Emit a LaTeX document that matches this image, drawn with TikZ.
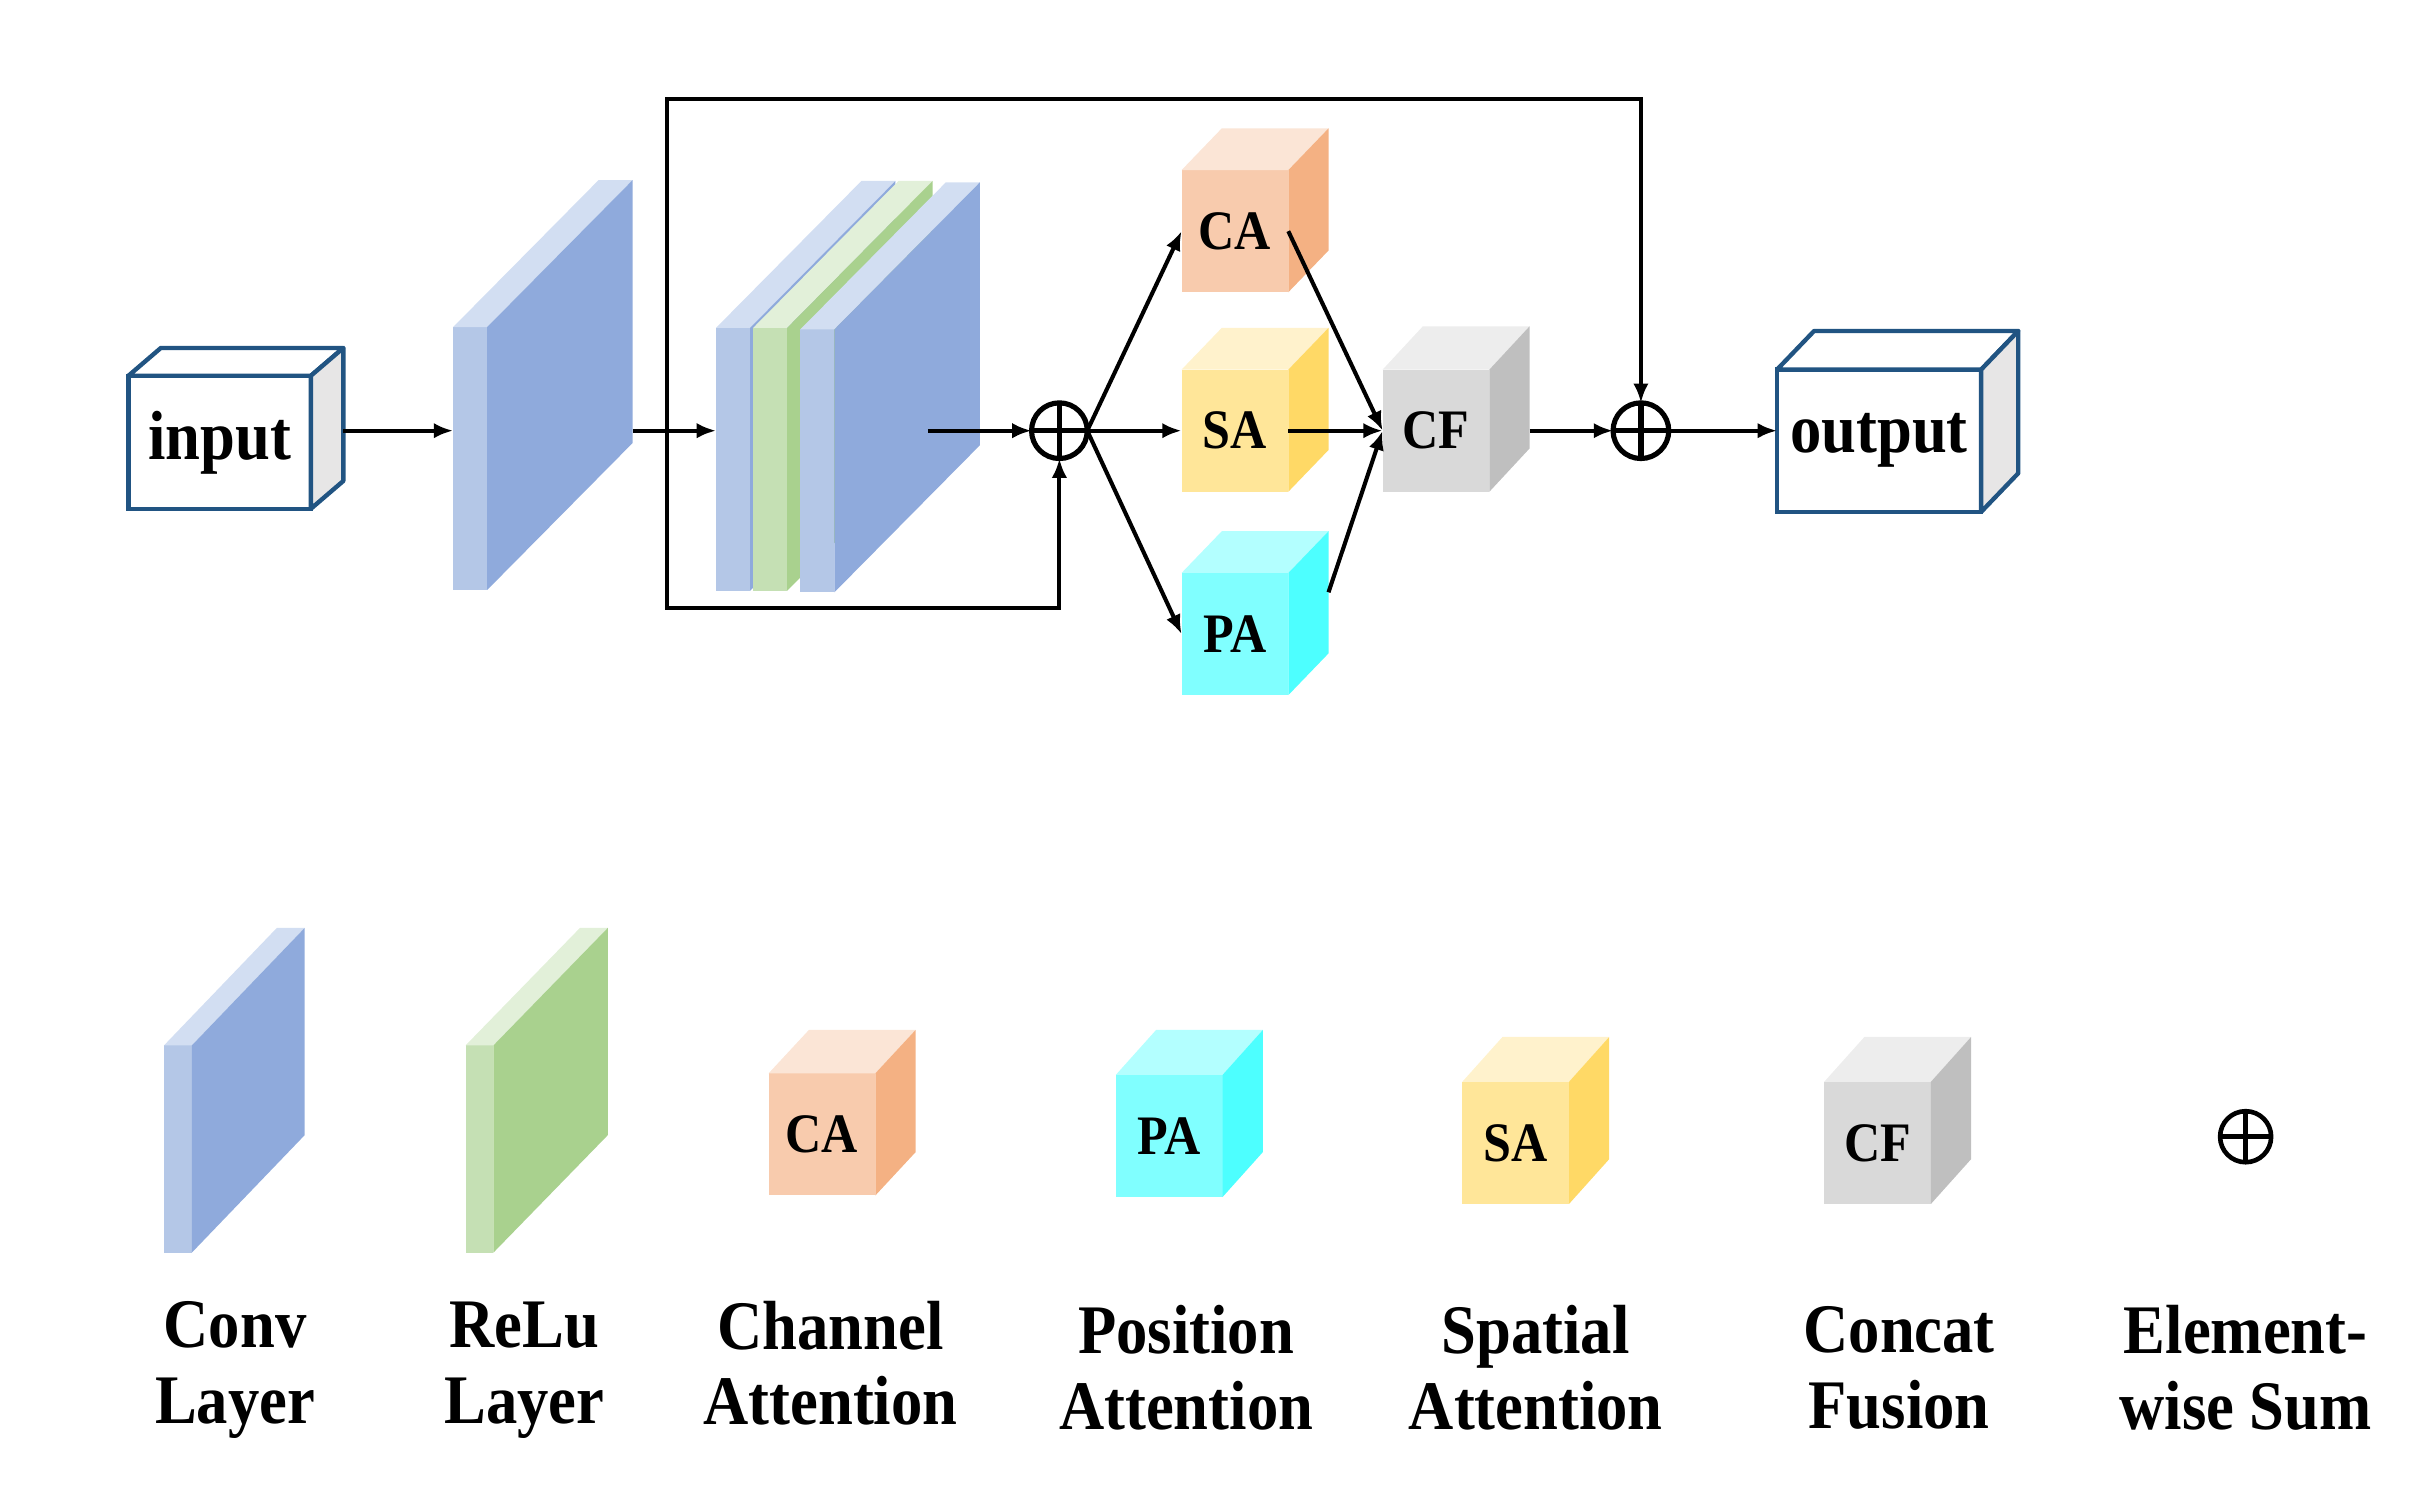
\documentclass[tikz,border=0pt]{standalone}
\usepackage{fontspec}
\usepackage{tikz}
\usetikzlibrary{arrows.meta, calc}
\newfontfamily\figfont[FakeStretch=0.9]{Liberation Serif}
\definecolor{wireblue}{RGB}{33,84,130}
\definecolor{wireside}{RGB}{231,230,230}
\definecolor{convfront}{RGB}{180,199,231}
\definecolor{convside}{RGB}{143,170,220}
\definecolor{convtop}{RGB}{210,222,242}
\definecolor{relufront}{RGB}{197,224,180}
\definecolor{reluside}{RGB}{169,209,142}
\definecolor{relutop}{RGB}{226,240,217}
\definecolor{cafront}{RGB}{248,203,173}
\definecolor{caside}{RGB}{244,177,131}
\definecolor{catop}{RGB}{251,229,214}
\definecolor{safront}{RGB}{255,230,153}
\definecolor{saside}{RGB}{255,217,102}
\definecolor{satop}{RGB}{255,242,204}
\definecolor{pafront}{RGB}{128,255,255}
\definecolor{paside}{RGB}{77,255,255}
\definecolor{patop}{RGB}{179,255,255}
\definecolor{cffront}{RGB}{217,217,217}
\definecolor{cfside}{RGB}{191,191,191}
\definecolor{cftop}{RGB}{237,237,237}
\newcommand{\labfont}{\figfont\bfseries\fontsize{25.6}{27.9}\selectfont}
\newcommand{\boxfont}{\figfont\bfseries\fontsize{20.5}{24}\selectfont}
\tikzset{
  slab/.style={rectangle, inner sep=0pt, outer sep=0pt,
    minimum width=0.44cm, minimum height=3.40cm},
  legslab/.style={slab, minimum width=0.36cm, minimum height=2.68cm},
  cube/.style={rectangle, inner sep=0pt, outer sep=0pt,
    minimum width=1.38cm, minimum height=1.58cm, font=\boxfont},
  wirebox/.style={rectangle, draw=wireblue, fill=white, line width=1.6pt,
    inner sep=0pt, outer sep=0pt, font=\labfont},
  sumnode/.style={circle, draw, line width=1.9pt, minimum size=0.72cm,
    inner sep=0pt, outer sep=0pt,
    path picture={\draw[line width=1.9pt]
      (path picture bounding box.north) -- (path picture bounding box.south)
      (path picture bounding box.west) -- (path picture bounding box.east);}},
  arrow/.style={-{Latex[length=2.5mm,width=2mm]}, line width=1.5pt},
  legtext/.style={align=center, font=\labfont}
}
% top and side faces behind a front node: node, top, side, dx, dy
\newcommand{\blockfaces}[5]{
  \fill[#2] (#1.north west) -- ++(#4,#5) -- ($(#1.north east)+(#4,#5)$) -- (#1.north east) -- cycle;
  \fill[#3] (#1.north east) -- ++(#4,#5) -- ($(#1.south east)+(#4,#5)$) -- (#1.south east) -- cycle;
}
% outlined box faces: node, dx, dy
\newcommand{\wirefaces}[3]{
  \filldraw[draw=wireblue, fill=white, line width=1.6pt, line join=round]
    (#1.north west) -- ++(#2,#3) -- ($(#1.north east)+(#2,#3)$) -- (#1.north east) -- cycle;
  \filldraw[draw=wireblue, fill=wireside, line width=1.6pt, line join=round]
    (#1.north east) -- ++(#2,#3) -- ($(#1.south east)+(#2,#3)$) -- (#1.south east) -- cycle;
}

\begin{document}
\begin{tikzpicture}
  \useasboundingbox (0,0) rectangle (31.36,19.44);

  % input and first conv
  \node[wirebox, minimum width=2.36cm, minimum height=1.72cm] (input) at (2.84,13.72) {input};
  \wirefaces{input}{0.42}{0.36}
  \node[slab, fill=convfront] (conva) at (6.08,13.51) {};
  \blockfaces{conva}{convtop}{convside}{1.88}{1.90}

  % conv - relu - conv stack
  \node[slab, fill=convfront] (slaba) at (9.48,13.50) {};
  \blockfaces{slaba}{convtop}{convside}{1.88}{1.90}
  \node[slab, fill=relufront] (slabb) at (9.96,13.50) {};
  \blockfaces{slabb}{relutop}{reluside}{1.88}{1.90}
  \node[slab, fill=convfront] (slabc) at (10.57,13.48) {};
  \blockfaces{slabc}{convtop}{convside}{1.88}{1.90}

  % attention branches
  \node[sumnode] (sumA) at (13.70,13.87) {};
  \node[cube, fill=cafront] (ca) at (15.97,16.45) {CA};
  \blockfaces{ca}{catop}{caside}{0.52}{0.54}
  \node[cube, fill=safront] (sa) at (15.97,13.87) {SA};
  \blockfaces{sa}{satop}{saside}{0.52}{0.54}
  \node[cube, fill=pafront] (pa) at (15.97,11.24) {PA};
  \blockfaces{pa}{patop}{paside}{0.52}{0.54}
  \node[cube, fill=cffront] (cf) at (18.57,13.87) {CF};
  \blockfaces{cf}{cftop}{cfside}{0.52}{0.56}
  \node[sumnode] (sumB) at (21.22,13.87) {};

  % output
  \node[wirebox, minimum width=2.64cm, minimum height=1.84cm] (output) at (24.30,13.74) {output};
  \wirefaces{output}{0.48}{0.50}

  % connectors
  \coordinate (insd) at (4.44,13.87);
  \coordinate (convout) at (8.18,13.87);
  \coordinate (split) at (8.62,13.87);
  \coordinate (tap) at (12.00,13.87);
  \coordinate (cfout) at (19.78,13.87);
  \draw[arrow] (insd) -- (conva.west |- insd);
  \draw[arrow] (convout) -- (slaba.west |- convout);
  \draw[arrow] (split) -- ++(0,4.29) -| (sumB.north);
  \draw[arrow] (split) -- ++(0,-2.29) -| (sumA.south);
  \draw[arrow] (tap) -- (sumA.west);
  \draw[arrow] (sumA.east) -- (ca.west);
  \draw[arrow] (sumA.east) -- (sa.west);
  \draw[arrow] (sumA.east) -- (pa.west);
  \draw[arrow] (ca.east) -- (cf.west);
  \draw[arrow] (sa.east) -- (cf.west);
  \draw[arrow] ($(pa.east)+(0.52,0.54)$) -- (cf.west);
  \draw[arrow] (cfout) -- (sumB.west);
  \draw[arrow] (sumB.east) -- (output.west |- sumB);

  % legend
  \node[legslab, fill=convfront] (lconv) at (2.30,4.58) {};
  \blockfaces{lconv}{convtop}{convside}{1.46}{1.52}
  \node[legslab, fill=relufront] (lrelu) at (6.20,4.58) {};
  \blockfaces{lrelu}{relutop}{reluside}{1.48}{1.52}
  \node[cube, fill=cafront] (lca) at (10.63,4.77) {CA};
  \blockfaces{lca}{catop}{caside}{0.52}{0.56}
  \node[cube, fill=pafront] (lpa) at (15.12,4.75) {PA};
  \blockfaces{lpa}{patop}{paside}{0.52}{0.58}
  \node[cube, fill=safront] (lsa) at (19.60,4.66) {SA};
  \blockfaces{lsa}{satop}{saside}{0.52}{0.58}
  \node[cube, fill=cffront] (lcf) at (24.28,4.66) {CF};
  \blockfaces{lcf}{cftop}{cfside}{0.52}{0.58}
  \node[sumnode, minimum size=0.66cm, line width=1.7pt] (lsum) at (29.04,4.74) {};

  \node[legtext] (tconv) at (3.04,1.72) {Conv\\Layer};
  \node[legtext] (trelu) at (6.78,1.72) {ReLu\\Layer};
  \node[legtext] (tca) at (10.74,1.81) {Channel\\Attention};
  \node[legtext] (tpa) at (15.34,1.75) {Position\\Attention};
  \node[legtext] (tsa) at (19.86,1.75) {Spatial\\Attention};
  \node[legtext] (tcf) at (24.56,1.75) {Concat\\Fusion};
  \node[legtext] (tsum) at (29.04,1.75) {Element-\\wise Sum};
\end{tikzpicture}
\end{document}
